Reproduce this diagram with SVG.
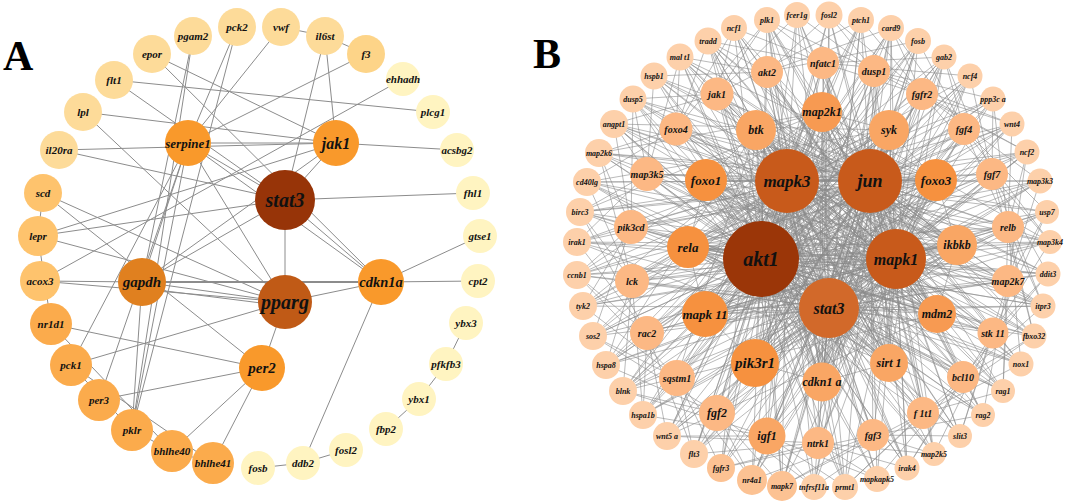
<svg xmlns="http://www.w3.org/2000/svg" width="1065" height="502" viewBox="0 0 1065 502">
<style>
text{font-family:"Liberation Serif","Times New Roman",serif;font-weight:bold;font-style:italic;text-anchor:middle;dominant-baseline:central;fill:#111}
.pl{font-style:normal;dominant-baseline:auto;text-anchor:start;font-size:42px;fill:#000}
.ea line{stroke:#8c8c8c;stroke-width:1}
.eb path{stroke:#8a8a8a;stroke-width:.7;stroke-opacity:.85;fill:none}
.a0{fill:#973408}.a1{fill:#c05a16}.a2{fill:#e0801f}.a3{fill:#f9992b}.a4{fill:#fbab4c}.a5{fill:#fec36d}.a6{fill:#fddb99}.a6b{fill:#fdd488}.a7{fill:#fff4c1}
.b0{fill:#9b3608}.b1{fill:#c85a1b}.b2{fill:#d2692a}.b3{fill:#f6913f}.b3b{fill:#f79a52}.b4{fill:#f9a664}.b5{fill:#fcb884}.b6{fill:#fdd0aa}.b6d{fill:#fcc293}
.s8{font-size:8px}.s10{font-size:10px}.s11{font-size:11px}.s12{font-size:12px}.s13{font-size:13px}.s14{font-size:14.5px}.s15{font-size:15px}.s16{font-size:16px}.s17{font-size:17px}.s18{font-size:18px}.s20{font-size:20px}
</style>
<rect width="1065" height="502" fill="#fff"/>
<text class="pl" x="3" y="70">A</text>
<text class="pl" x="533" y="68">B</text>
<g id="edges-A" class="ea">
<line x1="281" y1="27" x2="325" y2="36"/>
<line x1="325" y1="36" x2="366" y2="54"/>
<line x1="325" y1="36" x2="336" y2="143"/>
<line x1="325" y1="36" x2="285" y2="200"/>
<line x1="281" y1="27" x2="188" y2="143"/>
<line x1="366" y1="54" x2="188" y2="143"/>
<line x1="237" y1="27" x2="188" y2="143"/>
<line x1="237" y1="27" x2="132" y2="430"/>
<line x1="193" y1="36" x2="132" y2="430"/>
<line x1="193" y1="36" x2="142" y2="282"/>
<line x1="152" y1="54" x2="336" y2="143"/>
<line x1="152" y1="54" x2="381" y2="282"/>
<line x1="114" y1="80" x2="433" y2="112"/>
<line x1="114" y1="80" x2="285" y2="200"/>
<line x1="83" y1="112" x2="336" y2="143"/>
<line x1="83" y1="112" x2="285" y2="302"/>
<line x1="59" y1="150" x2="336" y2="143"/>
<line x1="59" y1="150" x2="285" y2="200"/>
<line x1="43" y1="193" x2="285" y2="302"/>
<line x1="43" y1="193" x2="38" y2="236"/>
<line x1="43" y1="193" x2="262" y2="368"/>
<line x1="38" y1="236" x2="285" y2="200"/>
<line x1="38" y1="236" x2="336" y2="143"/>
<line x1="38" y1="236" x2="51" y2="324"/>
<line x1="38" y1="236" x2="285" y2="302"/>
<line x1="40" y1="281" x2="403" y2="79"/>
<line x1="40" y1="281" x2="142" y2="282"/>
<line x1="40" y1="281" x2="285" y2="302"/>
<line x1="51" y1="324" x2="262" y2="368"/>
<line x1="51" y1="324" x2="172" y2="451"/>
<line x1="71" y1="365" x2="188" y2="143"/>
<line x1="71" y1="365" x2="285" y2="302"/>
<line x1="71" y1="365" x2="213" y2="463"/>
<line x1="71" y1="365" x2="132" y2="430"/>
<line x1="99" y1="400" x2="262" y2="368"/>
<line x1="132" y1="430" x2="172" y2="451"/>
<line x1="132" y1="430" x2="142" y2="282"/>
<line x1="132" y1="430" x2="188" y2="143"/>
<line x1="172" y1="451" x2="213" y2="463"/>
<line x1="172" y1="451" x2="262" y2="368"/>
<line x1="213" y1="463" x2="262" y2="368"/>
<line x1="262" y1="368" x2="285" y2="302"/>
<line x1="142" y1="282" x2="285" y2="302"/>
<line x1="142" y1="288" x2="285" y2="306"/>
<line x1="142" y1="282" x2="381" y2="282" style="stroke-width:2"/>
<line x1="142" y1="282" x2="285" y2="200"/>
<line x1="142" y1="282" x2="336" y2="143"/>
<line x1="142" y1="282" x2="188" y2="143"/>
<line x1="188" y1="143" x2="285" y2="200"/>
<line x1="188" y1="143" x2="336" y2="143"/>
<line x1="188" y1="143" x2="285" y2="302"/>
<line x1="188" y1="143" x2="381" y2="282"/>
<line x1="188" y1="143" x2="99" y2="400"/>
<line x1="285" y1="200" x2="336" y2="143"/>
<line x1="285" y1="200" x2="285" y2="302"/>
<line x1="285" y1="200" x2="381" y2="282"/>
<line x1="285" y1="200" x2="473" y2="193"/>
<line x1="336" y1="143" x2="457" y2="150"/>
<line x1="285" y1="302" x2="381" y2="282"/>
<line x1="381" y1="282" x2="478" y2="281"/>
<line x1="381" y1="282" x2="480" y2="236"/>
<line x1="381" y1="282" x2="303" y2="463"/>
<line x1="303" y1="463" x2="258" y2="468"/>
<line x1="303" y1="463" x2="346" y2="450"/>
<line x1="386" y1="429" x2="419" y2="399"/>
<line x1="419" y1="399" x2="446" y2="364"/>
<line x1="446" y1="364" x2="466" y2="323"/>
</g>
<g id="nodes-A">
<g id="a-pgam2"><circle class="a6" cx="193" cy="36" r="19"/><text class="s11" x="193" y="36">pgam2</text></g>
<g id="a-pck2"><circle class="a6" cx="237" cy="27" r="19"/><text class="s11" x="237" y="27">pck2</text></g>
<g id="a-vwf"><circle class="a6" cx="281" cy="27" r="19"/><text class="s11" x="281" y="27">vwf</text></g>
<g id="a-il6st"><circle class="a6" cx="325" cy="36" r="19"/><text class="s11" x="325" y="36">il6st</text></g>
<g id="a-f3"><circle class="a6b" cx="366" cy="54" r="19"/><text class="s11" x="366" y="54">f3</text></g>
<g id="a-ehhadh"><circle class="a7" cx="403" cy="79" r="17"/><text class="s11" x="403" y="79">ehhadh</text></g>
<g id="a-plcg1"><circle class="a7" cx="433" cy="112" r="17"/><text class="s11" x="433" y="112">plcg1</text></g>
<g id="a-acsbg2"><circle class="a7" cx="457" cy="150" r="17"/><text class="s11" x="457" y="150">acsbg2</text></g>
<g id="a-fhl1"><circle class="a7" cx="473" cy="193" r="17"/><text class="s11" x="473" y="193">fhl1</text></g>
<g id="a-gtse1"><circle class="a7" cx="480" cy="236" r="17"/><text class="s11" x="480" y="236">gtse1</text></g>
<g id="a-cpt2"><circle class="a7" cx="478" cy="281" r="17"/><text class="s11" x="478" y="281">cpt2</text></g>
<g id="a-ybx3"><circle class="a7" cx="466" cy="323" r="17"/><text class="s11" x="466" y="323">ybx3</text></g>
<g id="a-pfkfb3"><circle class="a7" cx="446" cy="364" r="17"/><text class="s11" x="446" y="364">pfkfb3</text></g>
<g id="a-ybx1"><circle class="a7" cx="419" cy="399" r="17"/><text class="s11" x="419" y="399">ybx1</text></g>
<g id="a-fbp2"><circle class="a7" cx="386" cy="429" r="17"/><text class="s11" x="386" y="429">fbp2</text></g>
<g id="a-fosl2"><circle class="a7" cx="346" cy="450" r="17"/><text class="s11" x="346" y="450">fosl2</text></g>
<g id="a-ddb2"><circle class="a7" cx="303" cy="463" r="17"/><text class="s11" x="303" y="463">ddb2</text></g>
<g id="a-fosb"><circle class="a7" cx="258" cy="468" r="17"/><text class="s11" x="258" y="468">fosb</text></g>
<g id="a-bhlhe41"><circle class="a4" cx="213" cy="463" r="21"/><text class="s11" x="213" y="463">bhlhe41</text></g>
<g id="a-bhlhe40"><circle class="a4" cx="172" cy="451" r="21"/><text class="s11" x="172" y="451">bhlhe40</text></g>
<g id="a-pklr"><circle class="a4" cx="132" cy="430" r="21"/><text class="s11" x="132" y="430">pklr</text></g>
<g id="a-per3"><circle class="a4" cx="99" cy="400" r="21"/><text class="s11" x="99" y="400">per3</text></g>
<g id="a-pck1"><circle class="a4" cx="71" cy="365" r="21"/><text class="s11" x="71" y="365">pck1</text></g>
<g id="a-nr1d1"><circle class="a4" cx="51" cy="324" r="21"/><text class="s11" x="51" y="324">nr1d1</text></g>
<g id="a-acox3"><circle class="a5" cx="40" cy="281" r="20"/><text class="s11" x="40" y="281">acox3</text></g>
<g id="a-lepr"><circle class="a5" cx="38" cy="236" r="20"/><text class="s11" x="38" y="236">lepr</text></g>
<g id="a-scd"><circle class="a5" cx="43" cy="193" r="19"/><text class="s11" x="43" y="193">scd</text></g>
<g id="a-il20ra"><circle class="a6" cx="59" cy="150" r="19"/><text class="s11" x="59" y="150">il20ra</text></g>
<g id="a-lpl"><circle class="a6" cx="83" cy="112" r="19"/><text class="s11" x="83" y="112">lpl</text></g>
<g id="a-flt1"><circle class="a6" cx="114" cy="80" r="19"/><text class="s11" x="114" y="80">flt1</text></g>
<g id="a-epor"><circle class="a6" cx="152" cy="54" r="19"/><text class="s11" x="152" y="54">epor</text></g>
<g id="a-serpine1"><circle class="a3" cx="188" cy="143" r="23"/><text class="s13" x="188" y="143">serpine1</text></g>
<g id="a-jak1"><circle class="a3" cx="336" cy="143" r="23"/><text class="s16" x="336" y="143">jak1</text></g>
<g id="a-gapdh"><circle class="a2" cx="142" cy="282" r="24"/><text class="s15" x="142" y="282">gapdh</text></g>
<g id="a-cdkn1a"><circle class="a3" cx="381" cy="282" r="23"/><text class="s14" x="381" y="282">cdkn1a</text></g>
<g id="a-per2"><circle class="a3" cx="262" cy="368" r="23"/><text class="s15" x="262" y="368">per2</text></g>
<g id="a-pparg"><circle class="a1" cx="285" cy="302" r="27"/><text class="s20" x="285" y="302">pparg</text></g>
<g id="a-stat3"><circle class="a0" cx="285" cy="200" r="30"/><text class="s20" x="285" y="200">stat3</text></g>
</g>
<g id="edges-B" class="eb">
<path d="M797 15L761 259 829 15M861 20L761 259 891 28M918 41L761 259 944 57M970 76L761 259 993 99M1012 124L761 259 1027 152M1040 181L761 259 1047 212M1050 242L761 259 1048 274M1043 306L761 259 1034 336M1021 364L761 259 1003 391M983 415L761 259 960 436M934 454L761 259 907 468M877 479L761 259 845 487M814 487L761 259 782 486M752 480L761 259 721 468M694 454L761 259 667 436M643 415L761 259 623 391M606 365L761 259 593 336M583 306L761 259 577 275M577 242L761 259 580 212M587 182L761 259 599 153M614 124L761 259 633 99M654 76L761 259 680 57M708 41L761 259 734 28M767 20L761 259 767 72M717 94L761 259 676 129M647 174L761 259 631 227M632 281L761 259 647 333M677 378L761 259 717 413M767 436L761 259 818 443M873 435L761 259 923 413M963 377L761 259 993 333M1008 281L761 259 1008 227M992 174L761 259 964 129M922 94L761 259 874 71M823 63L761 259 756 130M822 112L761 259 889 130M936 180L761 259 957 245M937 314L761 259 889 363M822 382L761 259 755 363M705 314L761 259 688 247M706 180L761 259"/>
<path d="M797 15L787 181 829 15M861 20L787 181 891 28M918 41L787 181 944 57M970 76L787 181 993 99M1012 124L787 181 1027 152M1040 181L787 181 1047 212M1050 242L787 181 1048 274M1043 306L787 181 1034 336M1021 364L787 181 1003 391M983 415L787 181 960 436M934 454L787 181 907 468M877 479L787 181 845 487M814 487L787 181 782 486M752 480L787 181 721 468M694 454L787 181 667 436M643 415L787 181 623 391M606 365L787 181 593 336M583 306L787 181 577 275M577 242L787 181 580 212M587 182L787 181 599 153M614 124L787 181 633 99M654 76L787 181 680 57M708 41L787 181 734 28M767 20L787 181 767 72M717 94L787 181 676 129M647 174L787 181 631 227M632 281L787 181 647 333M677 378L787 181 717 413M767 436L787 181 818 443M873 435L787 181 923 413M963 377L787 181 993 333M1008 281L787 181 1008 227M992 174L787 181 964 129M922 94L787 181 874 71M823 63L787 181"/>
<path d="M797 15L870 181 829 15M861 20L870 181 891 28M918 41L870 181 944 57M970 76L870 181 993 99M1012 124L870 181 1027 152M1040 181L870 181 1047 212M1050 242L870 181 1048 274M1043 306L870 181 1034 336M1021 364L870 181 1003 391M983 415L870 181 960 436M934 454L870 181 907 468M877 479L870 181 845 487M814 487L870 181 782 486M752 480L870 181 721 468M694 454L870 181 667 436M643 415L870 181 623 391M606 365L870 181 593 336M583 306L870 181 577 275M577 242L870 181 580 212M587 182L870 181 599 153M614 124L870 181 633 99M654 76L870 181 680 57M708 41L870 181 734 28M767 20L870 181 767 72M717 94L870 181 676 129M647 174L870 181 631 227M632 281L870 181 647 333M677 378L870 181 717 413M767 436L870 181 818 443M873 435L870 181 923 413M963 377L870 181 993 333M1008 281L870 181 1008 227M992 174L870 181 964 129M922 94L870 181 874 71M823 63L870 181"/>
<path d="M797 15L896 259 829 15M861 20L896 259 891 28M918 41L896 259 944 57M970 76L896 259 993 99M1012 124L896 259 1027 152M1040 181L896 259 1047 212M1050 242L896 259 1048 274M1043 306L896 259 1034 336M1021 364L896 259 1003 391M983 415L896 259 960 436M934 454L896 259 907 468M877 479L896 259 845 487M814 487L896 259 782 486M752 480L896 259 721 468M694 454L896 259 667 436M643 415L896 259 623 391M606 365L896 259 593 336M583 306L896 259 577 275M577 242L896 259 580 212M587 182L896 259 599 153M614 124L896 259 633 99M654 76L896 259 680 57M708 41L896 259 734 28M767 20L896 259 767 72M717 94L896 259 676 129M647 174L896 259 631 227M632 281L896 259 647 333M677 378L896 259 717 413M767 436L896 259 818 443M873 435L896 259 923 413M963 377L896 259 993 333M1008 281L896 259 1008 227M992 174L896 259 964 129M922 94L896 259 874 71M823 63L896 259"/>
<path d="M797 15L829 308 829 15M861 20L829 308 891 28M918 41L829 308 944 57M970 76L829 308 993 99M1012 124L829 308 1027 152M1040 181L829 308 1047 212M1050 242L829 308 1048 274M1043 306L829 308 1034 336M1021 364L829 308 1003 391M983 415L829 308 960 436M934 454L829 308 907 468M877 479L829 308 845 487M814 487L829 308 782 486M752 480L829 308 721 468M694 454L829 308 667 436M643 415L829 308 623 391M606 365L829 308 593 336M583 306L829 308 577 275M577 242L829 308 580 212M587 182L829 308 599 153M614 124L829 308 633 99M654 76L829 308 680 57M708 41L829 308 734 28M767 20L829 308 767 72M717 94L829 308 676 129M647 174L829 308 631 227M632 281L829 308 647 333M677 378L829 308 717 413M767 436L829 308 818 443M873 435L829 308 923 413M963 377L829 308 993 333M1008 281L829 308 1008 227M992 174L829 308 964 129M922 94L829 308 874 71M823 63L829 308"/>
<path d="M756 130L787 181 822 112M889 130L787 181 936 180M957 245L787 181 937 314M889 363L787 181 822 382M755 363L787 181 705 314M688 247L787 181 706 180M756 130L870 181 822 112M889 130L870 181 936 180M957 245L870 181 937 314M889 363L870 181 822 382M755 363L870 181 705 314M688 247L870 181 706 180M756 130L896 259 822 112M889 130L896 259 936 180M957 245L896 259 937 314M889 363L896 259 822 382M755 363L896 259 705 314M688 247L896 259 706 180M756 130L829 308 822 112M889 130L829 308 936 180M957 245L829 308 937 314M889 363L829 308 822 382M755 363L829 308 705 314M688 247L829 308 706 180M787 181L870 181 896 259 829 308 761 259 787 181 896 259M870 181L829 308M870 181L761 259M896 259L761 259M756 130L822 112 889 130 936 180 957 245 937 314 889 363 822 382 755 363 705 314 688 247 706 180 756 130"/>
<path d="M1048 274L756 130 1043 306M1003 391L756 130 960 436M907 468L756 130 845 487M782 486L756 130 721 468M677 378L756 130 873 435M963 377L756 130 993 333M889 363L756 130 937 314M957 245L756 130 606 365M667 436L822 112 623 391M593 336L822 112 577 275M580 212L822 112 599 153M717 413L822 112 767 436M818 443L822 112 923 413M983 415L822 112 1021 364M1034 336L822 112 1050 242M583 306L822 112 694 454M606 365L889 130 583 306M577 242L889 130 587 182M614 124L889 130 632 281M647 333L889 130 677 378M717 413L889 130 782 486M752 480L889 130 814 487M907 468L889 130 934 454M643 415L889 130 623 391M654 76L936 180 633 99M599 153L936 180 580 212M577 275L936 180 593 336M623 391L936 180 667 436M694 454L936 180 752 480M631 227L936 180 647 174M676 129L936 180 767 436M818 443L936 180 680 57M680 57L957 245 654 76M614 124L957 245 587 182M577 242L957 245 583 306M606 365L957 245 643 415M694 454L957 245 717 94M676 129L957 245 632 281M647 333L957 245 717 413M767 436L957 245 708 41M734 28L937 314 708 41M680 57L937 314 633 99M599 153L937 314 580 212M676 129L937 314 717 94M767 72L937 314 647 174M631 227L937 314 667 436M623 391L937 314 577 275M614 124L937 314 767 20M797 15L889 363 767 20M734 28L889 363 654 76M614 124L889 363 587 182M717 94L889 363 767 72M823 63L889 363 676 129M647 174L889 363 891 28M944 57L889 363 874 71M577 242L889 363 708 41M829 15L822 382 861 20M891 28L822 382 918 41M944 57L822 382 970 76M767 20L822 382 708 41M680 57L822 382 633 99M823 63L822 382 874 71M922 94L822 382 964 129M767 72L822 382 717 94M891 28L755 363 918 41M944 57L755 363 970 76M993 99L755 363 1012 124M1027 152L755 363 1040 181M1047 212L755 363 922 94M964 129L755 363 992 174M1008 227L755 363 874 71M823 63L755 363 861 20M861 20L705 314 891 28M918 41L705 314 970 76M1012 124L705 314 1027 152M1040 181L705 314 1047 212M1050 242L705 314 1048 274M992 174L705 314 1008 227M1008 281L705 314 964 129M1043 306L705 314 944 57M993 99L688 247 1027 152M1040 181L688 247 1050 242M1048 274L688 247 1043 306M1034 336L688 247 1021 364M1003 391L688 247 1008 227M1008 281L688 247 993 333M963 377L688 247 923 413M983 415L688 247 1012 124M1050 242L706 180 1043 306M1021 364L706 180 1003 391M983 415L706 180 960 436M934 454L706 180 907 468M877 479L706 180 963 377M923 413L706 180 873 435M993 333L706 180 1008 281M1034 336L706 180 845 487"/>
<path d="M708 41L767 72 680 57M829 15L767 72 891 28M918 41L767 72 654 76M633 99L717 94 614 124M767 20L717 94 797 15M861 20L717 94 734 28M599 153L676 129 587 182M734 28L676 129 708 41M767 20L676 129 680 57M580 212L647 174 577 242M654 76L647 174 680 57M633 99L647 174 614 124M577 275L631 227 583 306M593 336L631 227 614 124M599 153L631 227 633 99M606 365L632 281 623 391M587 182L632 281 580 212M599 153L632 281 643 415M643 415L647 333 667 436M577 242L647 333 577 275M580 212L647 333 694 454M694 454L677 378 721 468M583 306L677 378 593 336M577 275L677 378 752 480M752 480L717 413 782 486M606 365L717 413 623 391M593 336L717 413 814 487M814 487L767 436 845 487M643 415L767 436 667 436M623 391L767 436 877 479M877 479L818 443 907 468M694 454L818 443 721 468M667 436L818 443 934 454M934 454L873 435 960 436M752 480L873 435 782 486M721 468L873 435 983 415M1003 391L923 413 1021 364M814 487L923 413 845 487M782 486L923 413 1034 336M1034 336L963 377 1043 306M877 479L963 377 907 468M845 487L963 377 1048 274M1048 274L993 333 1050 242M934 454L993 333 960 436M907 468L993 333 1047 212M1047 212L1008 281 1040 181M983 415L1008 281 1003 391M960 436L1008 281 1027 152M1027 152L1008 227 1012 124M1021 364L1008 227 1034 336M1003 391L1008 227 993 99M993 99L992 174 970 76M1043 306L992 174 1048 274M1034 336L992 174 944 57M944 57L964 129 918 41M1050 242L964 129 1047 212M1043 306L964 129 891 28M891 28L922 94 861 20M1040 181L922 94 1027 152M1050 242L922 94 829 15M829 15L874 71 797 15M1012 124L874 71 993 99M1027 152L874 71 767 20M767 20L823 63 734 28M970 76L823 63 944 57M1012 124L823 63 708 41"/>
</g>
<g id="nodes-B">
<g id="b-fcer1g"><circle class="b6" cx="797" cy="15" r="13"/><text class="s8" x="797" y="15">fcer1g</text></g>
<g id="b-fosl2"><circle class="b6" cx="829" cy="15" r="13.5"/><text class="s8" x="829" y="15">fosl2</text></g>
<g id="b-ptch1"><circle class="b6" cx="861" cy="20" r="13"/><text class="s8" x="861" y="20">ptch1</text></g>
<g id="b-card9"><circle class="b6" cx="891" cy="28" r="13"/><text class="s8" x="891" y="28">card9</text></g>
<g id="b-fosb"><circle class="b6" cx="918" cy="41" r="13"/><text class="s8" x="918" y="41">fosb</text></g>
<g id="b-gab2"><circle class="b6" cx="944" cy="57" r="12.5"/><text class="s8" x="944" y="57">gab2</text></g>
<g id="b-ncf4"><circle class="b6" cx="970" cy="76" r="12.5"/><text class="s8" x="970" y="76">ncf4</text></g>
<g id="b-ppp3ca"><circle class="b6" cx="993" cy="99" r="12.5"/><text class="s8" x="993" y="99">ppp3c a</text></g>
<g id="b-wnt4"><circle class="b6" cx="1012" cy="124" r="12.5"/><text class="s8" x="1012" y="124">wnt4</text></g>
<g id="b-ncf2"><circle class="b6" cx="1027" cy="152" r="12.5"/><text class="s8" x="1027" y="152">ncf2</text></g>
<g id="b-map3k3"><circle class="b6" cx="1040" cy="181" r="12.5"/><text class="s8" x="1040" y="181">map3k3</text></g>
<g id="b-usp7"><circle class="b6" cx="1047" cy="212" r="12"/><text class="s8" x="1047" y="212">usp7</text></g>
<g id="b-map3k4"><circle class="b6" cx="1050" cy="242" r="12"/><text class="s8" x="1050" y="242">map3k4</text></g>
<g id="b-ddit3"><circle class="b6" cx="1048" cy="274" r="12.5"/><text class="s8" x="1048" y="274">ddit3</text></g>
<g id="b-itpr3"><circle class="b6" cx="1043" cy="306" r="12.5"/><text class="s8" x="1043" y="306">itpr3</text></g>
<g id="b-fbxo32"><circle class="b6" cx="1034" cy="336" r="12.5"/><text class="s8" x="1034" y="336">fbxo32</text></g>
<g id="b-nox1"><circle class="b6" cx="1021" cy="364" r="12.5"/><text class="s8" x="1021" y="364">nox1</text></g>
<g id="b-rag1"><circle class="b6" cx="1003" cy="391" r="12"/><text class="s8" x="1003" y="391">rag1</text></g>
<g id="b-rag2"><circle class="b6" cx="983" cy="415" r="12"/><text class="s8" x="983" y="415">rag2</text></g>
<g id="b-slit3"><circle class="b6" cx="960" cy="436" r="12"/><text class="s8" x="960" y="436">slit3</text></g>
<g id="b-map2k5"><circle class="b6" cx="934" cy="454" r="12"/><text class="s8" x="934" y="454">map2k5</text></g>
<g id="b-irak4"><circle class="b6" cx="907" cy="468" r="12.5"/><text class="s8" x="907" y="468">irak4</text></g>
<g id="b-mapkapk5"><circle class="b6" cx="877" cy="479" r="13"/><text class="s8" x="877" y="479">mapkapk5</text></g>
<g id="b-prmt1"><circle class="b6" cx="845" cy="487" r="13"/><text class="s8" x="845" y="487">prmt1</text></g>
<g id="b-tnfrsf11a"><circle class="b6" cx="814" cy="487" r="13"/><text class="s8" x="814" y="487">tnfrsf11a</text></g>
<g id="b-mapk7"><circle class="b6d" cx="782" cy="486" r="15"/><text class="s8" x="782" y="486">mapk7</text></g>
<g id="b-nr4a1"><circle class="b6d" cx="752" cy="480" r="15"/><text class="s8" x="752" y="480">nr4a1</text></g>
<g id="b-fgfr3"><circle class="b6d" cx="721" cy="468" r="14"/><text class="s8" x="721" y="468">fgfr3</text></g>
<g id="b-flt3"><circle class="b6" cx="694" cy="454" r="14"/><text class="s8" x="694" y="454">flt3</text></g>
<g id="b-wnt5a"><circle class="b6" cx="667" cy="436" r="14"/><text class="s8" x="667" y="436">wnt5 a</text></g>
<g id="b-hspa1b"><circle class="b6" cx="643" cy="415" r="14"/><text class="s8" x="643" y="415">hspa1b</text></g>
<g id="b-blnk"><circle class="b6" cx="623" cy="391" r="14"/><text class="s8" x="623" y="391">blnk</text></g>
<g id="b-hspa8"><circle class="b6" cx="606" cy="365" r="14"/><text class="s8" x="606" y="365">hspa8</text></g>
<g id="b-sos2"><circle class="b6" cx="593" cy="336" r="14"/><text class="s8" x="593" y="336">sos2</text></g>
<g id="b-tyk2"><circle class="b6" cx="583" cy="306" r="14"/><text class="s8" x="583" y="306">tyk2</text></g>
<g id="b-ccnb1"><circle class="b6" cx="577" cy="275" r="14"/><text class="s8" x="577" y="275">ccnb1</text></g>
<g id="b-irak1"><circle class="b6" cx="577" cy="242" r="14"/><text class="s8" x="577" y="242">irak1</text></g>
<g id="b-birc3"><circle class="b6" cx="580" cy="212" r="14"/><text class="s8" x="580" y="212">birc3</text></g>
<g id="b-cd40lg"><circle class="b6" cx="587" cy="182" r="14"/><text class="s8" x="587" y="182">cd40lg</text></g>
<g id="b-map2k6"><circle class="b6" cx="599" cy="153" r="14"/><text class="s8" x="599" y="153">map2k6</text></g>
<g id="b-angpt1"><circle class="b6" cx="614" cy="124" r="14"/><text class="s8" x="614" y="124">angpt1</text></g>
<g id="b-dusp5"><circle class="b6" cx="633" cy="99" r="13.5"/><text class="s8" x="633" y="99">dusp5</text></g>
<g id="b-hspb1"><circle class="b6" cx="654" cy="76" r="13.5"/><text class="s8" x="654" y="76">hspb1</text></g>
<g id="b-malt1"><circle class="b6" cx="680" cy="57" r="13.5"/><text class="s8" x="680" y="57">mal t1</text></g>
<g id="b-tradd"><circle class="b6" cx="708" cy="41" r="13.5"/><text class="s8" x="708" y="41">tradd</text></g>
<g id="b-ncf1"><circle class="b6" cx="734" cy="28" r="13"/><text class="s8" x="734" y="28">ncf1</text></g>
<g id="b-plk1"><circle class="b6" cx="767" cy="20" r="13"/><text class="s8" x="767" y="20">plk1</text></g>
<g id="b-akt2"><circle class="b5" cx="767" cy="72" r="16"/><text class="s10" x="767" y="72">akt2</text></g>
<g id="b-jak1"><circle class="b5" cx="717" cy="94" r="16.5"/><text class="s10" x="717" y="94">jak1</text></g>
<g id="b-foxo4"><circle class="b5" cx="676" cy="129" r="16.5"/><text class="s10" x="676" y="129">foxo4</text></g>
<g id="b-map3k5"><circle class="b5" cx="647" cy="174" r="17"/><text class="s10" x="647" y="174">map3k5</text></g>
<g id="b-pik3cd"><circle class="b5" cx="631" cy="227" r="17"/><text class="s10" x="631" y="227">pik3cd</text></g>
<g id="b-lck"><circle class="b5" cx="632" cy="281" r="17"/><text class="s10" x="632" y="281">lck</text></g>
<g id="b-rac2"><circle class="b5" cx="647" cy="333" r="17"/><text class="s10" x="647" y="333">rac2</text></g>
<g id="b-sqstm1"><circle class="b5" cx="677" cy="378" r="18"/><text class="s10" x="677" y="378">sqstm1</text></g>
<g id="b-fgf2"><circle class="b5" cx="717" cy="413" r="18"/><text class="s12" x="717" y="413">fgf2</text></g>
<g id="b-igf1"><circle class="b4" cx="767" cy="436" r="18.5"/><text class="s12" x="767" y="436">igf1</text></g>
<g id="b-ntrk1"><circle class="b5" cx="818" cy="443" r="16"/><text class="s10" x="818" y="443">ntrk1</text></g>
<g id="b-fgf3"><circle class="b5" cx="873" cy="435" r="16"/><text class="s10" x="873" y="435">fgf3</text></g>
<g id="b-f1t1"><circle class="b5" cx="923" cy="413" r="16"/><text class="s10" x="923" y="413">f 1t1</text></g>
<g id="b-bcl10"><circle class="b5" cx="963" cy="377" r="16"/><text class="s10" x="963" y="377">bcl10</text></g>
<g id="b-stk11"><circle class="b5" cx="993" cy="333" r="15.5"/><text class="s10" x="993" y="333">stk 11</text></g>
<g id="b-map2k7"><circle class="b5" cx="1008" cy="281" r="16"/><text class="s10" x="1008" y="281">map2k7</text></g>
<g id="b-relb"><circle class="b5" cx="1008" cy="227" r="16"/><text class="s10" x="1008" y="227">relb</text></g>
<g id="b-fgf7"><circle class="b5" cx="992" cy="174" r="16"/><text class="s10" x="992" y="174">fgf7</text></g>
<g id="b-fgf4"><circle class="b5" cx="964" cy="129" r="16"/><text class="s10" x="964" y="129">fgf4</text></g>
<g id="b-fgfr2"><circle class="b5" cx="922" cy="94" r="16"/><text class="s10" x="922" y="94">fgfr2</text></g>
<g id="b-dusp1"><circle class="b5" cx="874" cy="71" r="16"/><text class="s10" x="874" y="71">dusp1</text></g>
<g id="b-nfatc1"><circle class="b5" cx="823" cy="63" r="16"/><text class="s10" x="823" y="63">nfatc1</text></g>
<g id="b-btk"><circle class="b4" cx="756" cy="130" r="20"/><text class="s12" x="756" y="130">btk</text></g>
<g id="b-map2k1"><circle class="b3b" cx="822" cy="112" r="20"/><text class="s12" x="822" y="112">map2k1</text></g>
<g id="b-syk"><circle class="b4" cx="889" cy="130" r="20"/><text class="s12" x="889" y="130">syk</text></g>
<g id="b-foxo3"><circle class="b3" cx="936" cy="180" r="21"/><text class="s13" x="936" y="180">foxo3</text></g>
<g id="b-ikbkb"><circle class="b4" cx="957" cy="245" r="20"/><text class="s12" x="957" y="245">ikbkb</text></g>
<g id="b-mdm2"><circle class="b3b" cx="937" cy="314" r="19"/><text class="s12" x="937" y="314">mdm2</text></g>
<g id="b-sirt1"><circle class="b4" cx="889" cy="363" r="19"/><text class="s12" x="889" y="363">sirt 1</text></g>
<g id="b-cdkn1a"><circle class="b4" cx="822" cy="382" r="19.5"/><text class="s12" x="822" y="382">cdkn1 a</text></g>
<g id="b-pik3r1"><circle class="b3" cx="755" cy="363" r="24"/><text class="s15" x="755" y="363">pik3r1</text></g>
<g id="b-mapk11"><circle class="b3" cx="705" cy="314" r="23"/><text class="s13" x="705" y="314">mapk 11</text></g>
<g id="b-rela"><circle class="b3" cx="688" cy="247" r="21"/><text class="s13" x="688" y="247">rela</text></g>
<g id="b-foxo1"><circle class="b3" cx="706" cy="180" r="21"/><text class="s13" x="706" y="180">foxo1</text></g>
<g id="b-mapk3"><circle class="b1" cx="787" cy="181" r="32"/><text class="s17" x="787" y="181">mapk3</text></g>
<g id="b-jun"><circle class="b1" cx="870" cy="181" r="32"/><text class="s18" x="870" y="181">jun</text></g>
<g id="b-mapk1"><circle class="b1" cx="896" cy="259" r="30"/><text class="s16" x="896" y="259">mapk1</text></g>
<g id="b-stat3"><circle class="b2" cx="829" cy="308" r="30"/><text class="s16" x="829" y="308">stat3</text></g>
<g id="b-akt1"><circle class="b0" cx="761" cy="259" r="38"/><text class="s20" x="761" y="259">akt1</text></g>
</g>
</svg>
